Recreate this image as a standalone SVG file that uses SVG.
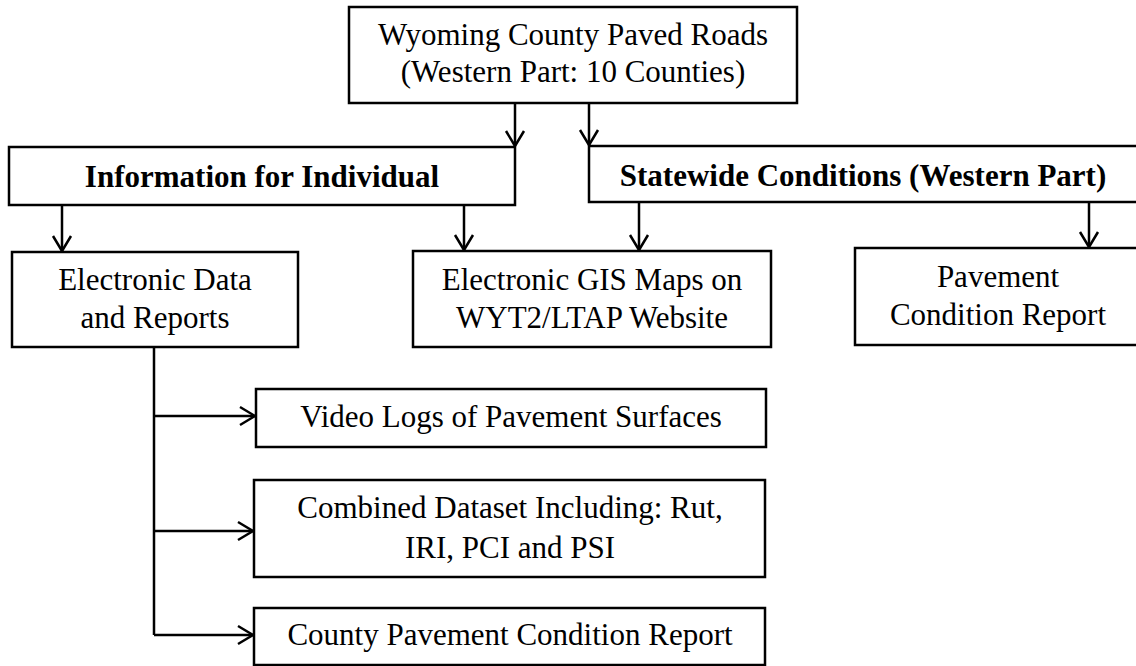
<svg xmlns="http://www.w3.org/2000/svg" width="1136" height="666" viewBox="0 0 1136 666">
<defs>
<marker id="arr" markerUnits="userSpaceOnUse" markerWidth="40" markerHeight="40" viewBox="-20 -20 40 40" refX="0" refY="0" orient="auto">
<path d="M -15 -9 L 0 0 L -15 9" fill="none" stroke="#000" stroke-width="2.5"/>
</marker>
</defs>
<style>
rect{fill:#fff;stroke:#000;stroke-width:2.5}
text{font-size:31px;fill:#000;text-anchor:middle}
.b{font-weight:bold}
.c{fill:none;stroke:#000;stroke-width:2.5}
</style>
<rect x="0" y="0" width="1136" height="666" style="stroke:none"/>
<g id="connectors">
<path class="c" d="M515 103 V146" marker-end="url(#arr)"/>
<path class="c" d="M589 103 V145" marker-end="url(#arr)"/>
<path class="c" d="M62 205 V251" marker-end="url(#arr)"/>
<path class="c" d="M464 205 V250" marker-end="url(#arr)"/>
<path class="c" d="M639 202 V250" marker-end="url(#arr)"/>
<path class="c" d="M1089 202 V247" marker-end="url(#arr)"/>
<path class="c" d="M154 347 V635"/>
<path class="c" d="M154 416 H255" marker-end="url(#arr)"/>
<path class="c" d="M154 531 H253" marker-end="url(#arr)"/>
<path class="c" d="M154 635 H253" marker-end="url(#arr)"/>
</g>
<g font-family="Liberation Serif, serif">
<g id="top">
<rect x="349" y="7" width="448" height="96"/>
<text x="573" y="45">Wyoming County Paved Roads</text>
<text x="573" y="82">(Western Part: 10 Counties)</text>
</g>
<g id="info">
<rect x="9" y="147" width="506" height="58"/>
<text class="b" x="262" y="187">Information for Individual</text>
</g>
<g id="statewide">
<rect x="589" y="146" width="560" height="56"/>
<text class="b" x="863" y="186">Statewide Conditions (Western Part)</text>
</g>
<g id="electronic">
<rect x="12" y="252" width="286" height="95"/>
<text x="155" y="290">Electronic Data</text>
<text x="155" y="328">and Reports</text>
</g>
<g id="gis">
<rect x="413" y="251" width="358" height="96"/>
<text x="592" y="290">Electronic GIS Maps on</text>
<text x="592" y="328">WYT2/LTAP Website</text>
</g>
<g id="pavement">
<rect x="855" y="248" width="290" height="97"/>
<text x="998" y="287">Pavement</text>
<text x="998" y="325">Condition Report</text>
</g>
<g id="video">
<rect x="256" y="389" width="510" height="58"/>
<text x="511" y="427">Video Logs of Pavement Surfaces</text>
</g>
<g id="combined">
<rect x="254" y="480" width="511" height="97"/>
<text x="510" y="518">Combined Dataset Including: Rut,</text>
<text x="510" y="558">IRI, PCI and PSI</text>
</g>
<g id="county">
<rect x="254" y="608" width="511" height="57"/>
<text x="510" y="645">County Pavement Condition Report</text>
</g>
</g>
</svg>
